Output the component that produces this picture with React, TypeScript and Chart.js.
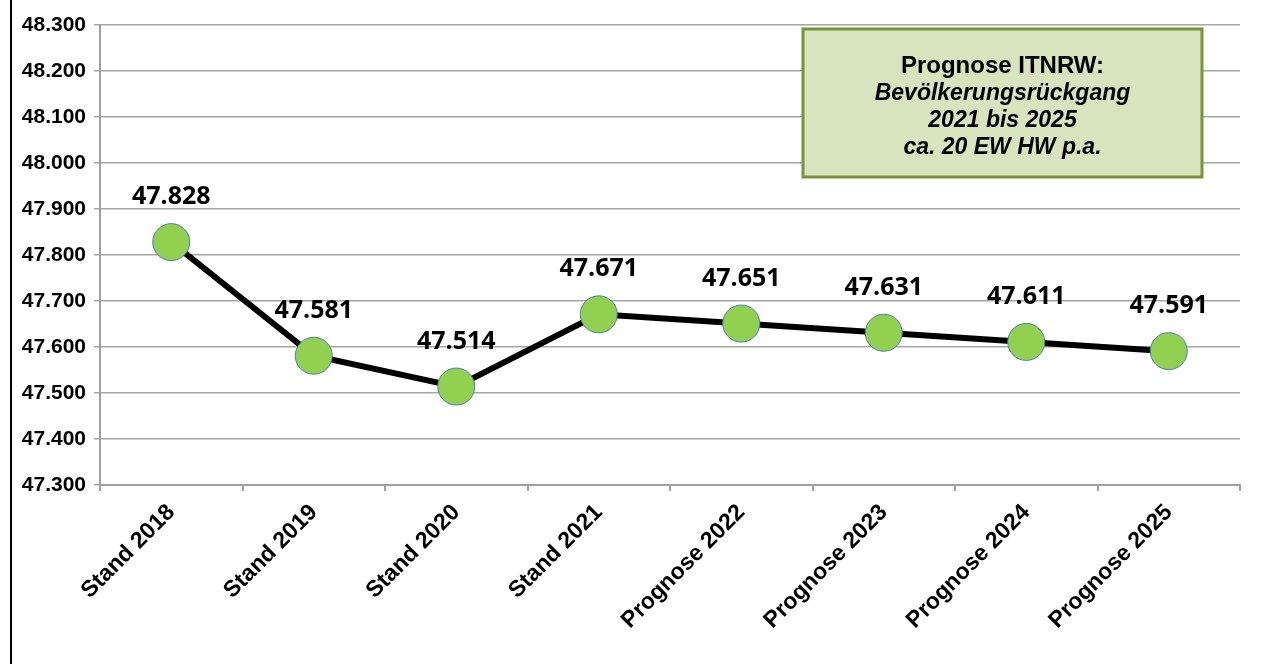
import React, { useEffect, useRef } from "react";
import { Chart, registerables } from "chart.js";

Chart.register(...registerables);

const categories = [
  "Stand 2018",
  "Stand 2019",
  "Stand 2020",
  "Stand 2021",
  "Prognose 2022",
  "Prognose 2023",
  "Prognose 2024",
  "Prognose 2025",
];
const population = [47.828, 47.581, 47.514, 47.671, 47.651, 47.631, 47.611, 47.591];
const yMin = 47.3;
const yMax = 48.3;
const yStep = 0.1;
const boxLines = [
  "Prognose ITNRW:",
  "Bevölkerungsrückgang",
  "2021 bis 2025",
  "ca. 20 EW HW p.a.",
];

const decorPlugin = {
  id: "decor",
  beforeDraw(chart: any) {
    const ctx = chart.ctx;
    ctx.save();
    ctx.fillStyle = "#ffffff";
    ctx.fillRect(0, 0, chart.width, chart.height);
    ctx.restore();
  },
  afterDatasetsDraw(chart: any) {
    const ctx = chart.ctx;
    const meta = chart.getDatasetMeta(0);
    ctx.save();
    ctx.font = "700 25px 'Open Sans', 'DejaVu Sans', sans-serif";
    ctx.fillStyle = "#000000";
    ctx.textAlign = "center";
    ctx.textBaseline = "alphabetic";
    meta.data.forEach((pt: any, i: number) => {
      ctx.fillText(population[i].toFixed(3), pt.x, pt.y - 38);
    });
    ctx.restore();
  },
  afterDraw(chart: any) {
    const ctx = chart.ctx;
    ctx.save();
    ctx.strokeStyle = "#000000";
    ctx.lineWidth = 2;
    ctx.beginPath();
    ctx.moveTo(11, 0);
    ctx.lineTo(11, chart.height);
    ctx.stroke();
    const bx = 803, by = 29, bw = 399, bh = 148;
    ctx.fillStyle = "#d7e4bd";
    ctx.fillRect(bx, by, bw, bh);
    ctx.strokeStyle = "#77933c";
    ctx.lineWidth = 3;
    ctx.strokeRect(bx, by, bw, bh);
    ctx.fillStyle = "#000000";
    ctx.textAlign = "center";
    ctx.textBaseline = "alphabetic";
    const cx = bx + bw / 2;
    ctx.font = "700 24px 'Liberation Sans', Arial, sans-serif";
    ctx.fillText(boxLines[0], cx, 73);
    ctx.font = "italic 700 23px 'Liberation Sans', Arial, sans-serif";
    ctx.fillText(boxLines[1], cx, 100);
    ctx.fillText(boxLines[2], cx, 127);
    ctx.fillText(boxLines[3], cx, 154);
    ctx.restore();
  },
};

export default function App() {
  const ref = useRef<HTMLCanvasElement | null>(null);
  useEffect(() => {
    if (!ref.current) return;
    const chart = new Chart(ref.current, {
      type: "line",
      data: {
        labels: categories,
        datasets: [
          {
            data: population,
            borderColor: "#000000",
            borderWidth: 6,
            pointRadius: 18.5,
            pointBackgroundColor: "#92d050",
            pointBorderColor: "#4a7ebb",
            pointBorderWidth: 1,
            tension: 0,
            clip: false as any,
          },
        ],
      },
      options: {
        animation: false,
        responsive: false,
        devicePixelRatio: 1,
        layout: { padding: { top: 25, right: 24, left: 0, bottom: 0 } },
        plugins: {
          legend: { display: false },
          tooltip: { enabled: false },
          title: { display: false },
        },
        scales: {
          x: {
            type: "category",
            offset: true,
            grid: {
              offset: true,
              drawOnChartArea: false,
              drawTicks: true,
              tickLength: 6,
              color: "#a0a0a0",
              lineWidth: 2,
            },
            border: { color: "#a0a0a0", width: 2 },
            ticks: {
              maxRotation: 45,
              minRotation: 45,
              autoSkip: false,
              padding: 8,
              color: "#000000",
              font: { family: "'Liberation Sans', Arial, sans-serif", size: 23, weight: "bold" },
            },
            afterFit: (scale: any) => {
              scale.height = 179;
            },
          },
          y: {
            min: yMin,
            max: yMax,
            grid: {
              color: "#a6a6a6",
              lineWidth: 1.5,
              drawTicks: true,
              tickLength: 6,
            },
            border: { color: "#a0a0a0", width: 2 },
            ticks: {
              stepSize: yStep,
              padding: 8,
              color: "#000000",
              font: { family: "'Liberation Sans', Arial, sans-serif", size: 21, weight: "bold" },
              callback: (v: any) => Number(v).toFixed(3),
            },
            afterFit: (scale: any) => {
              scale.width = 100;
            },
          },
        },
      },
      plugins: [decorPlugin],
    });
    return () => chart.destroy();
  }, []);
  return (
    <div style={{ position: "fixed", left: 0, top: 0, width: 1264, height: 664 }}>
      <canvas ref={ref} width={1264} height={664} style={{ display: "block" }} />
    </div>
  );
}
